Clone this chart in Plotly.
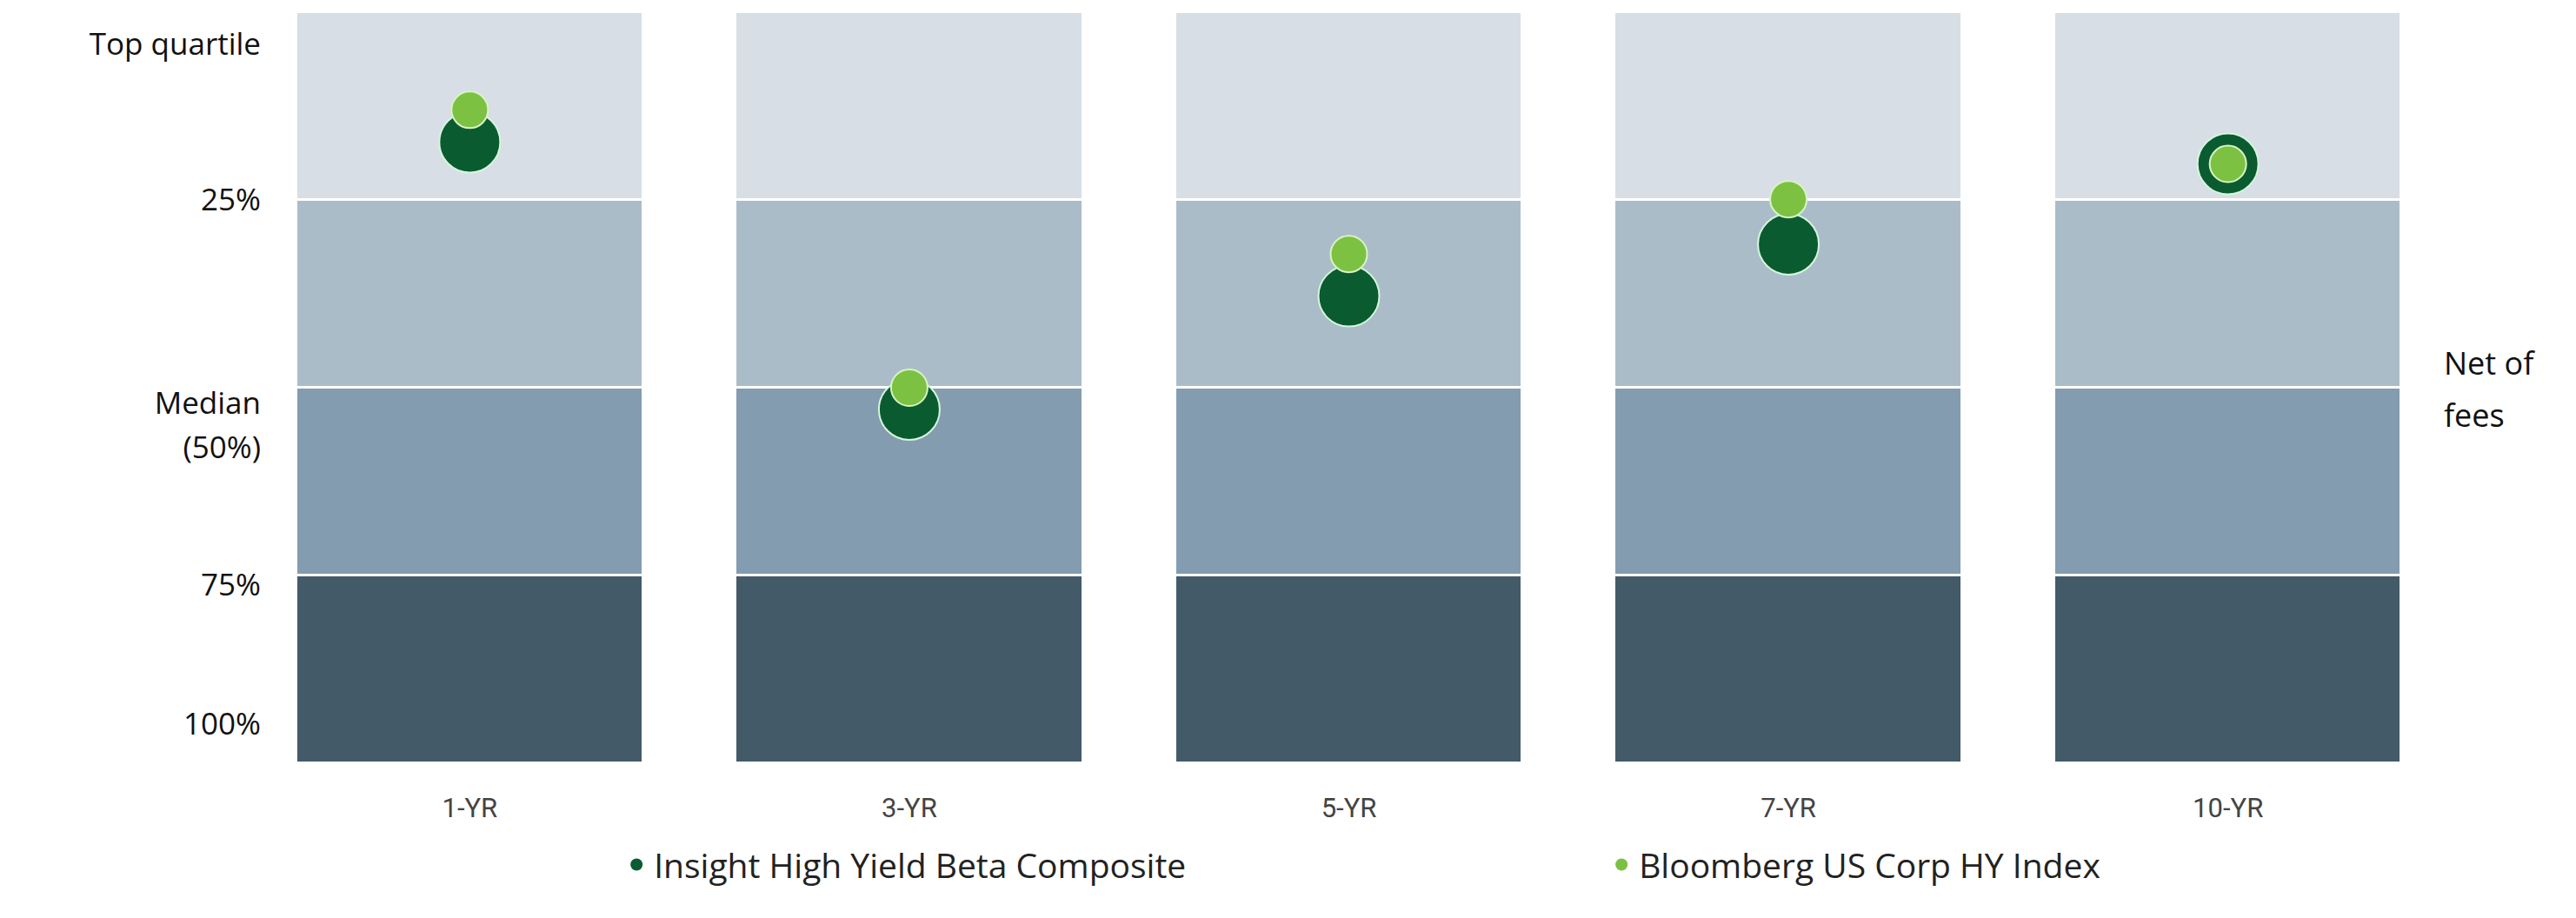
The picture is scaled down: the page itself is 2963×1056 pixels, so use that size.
import plotly.graph_objects as go

# periods (columns)
periodos = ["1-YR", "3-YR", "5-YR", "7-YR", "10-YR"]

# percentile rank (0 = best, 100 = worst)
insight_rank = [17.3, 52.9, 37.8, 30.9, 20.2]
bloomberg_rank = [13.0, 50.0, 32.2, 24.9, 20.2]

# quartile bands
faixa_base = [0, 25, 50, 75]
faixa_altura = [25, 25, 25, 25]
faixa_cores = ["#d7dee5", "#abbcc9", "#839cb0", "#435a69"]

# y-axis labels
rotulos_y = ["Top quartile", "25%", "Median", "(50%)", "75%", "100%"]
rotulos_y_pos = [4.2, 25, 52.0, 57.9, 76.3, 94.8]

nome_insight = "Insight High Yield Beta Composite"
nome_bloomberg = "Bloomberg US Corp HY Index"

verde_escuro = "#0a5c30"
verde_claro = "#7cc142"

x_pos = list(range(len(periodos)))

fig = go.Figure()

# quartile bands as stacked bars
for base, altura, cor in zip(faixa_base, faixa_altura, faixa_cores):
    fig.add_trace(go.Bar(
        x=x_pos, y=[altura] * len(periodos), base=[base] * len(periodos),
        width=0.79, marker=dict(color=cor, line=dict(color="white", width=3)),
        showlegend=False, hoverinfo="skip"
    ))

# composite (big dark circle)
fig.add_trace(go.Scatter(
    x=x_pos, y=insight_rank, mode="markers", showlegend=False,
    marker=dict(size=70, color=verde_escuro, line=dict(color="#d6f5de", width=2)),
    name=nome_insight
))

# index (small light circle)
fig.add_trace(go.Scatter(
    x=x_pos, y=bloomberg_rank, mode="markers", showlegend=False,
    marker=dict(size=42, color=verde_claro, line=dict(color="#d9f3c4", width=2)),
    name=nome_bloomberg
))

# legend entries with small dots (one legend each, to control spacing)
fig.add_trace(go.Scatter(x=[None], y=[None], mode="markers", name=nome_insight,
                         marker=dict(size=14, color=verde_escuro), legend="legend"))
fig.add_trace(go.Scatter(x=[None], y=[None], mode="markers", name=nome_bloomberg,
                         marker=dict(size=14, color=verde_claro), legend="legend2"))

# right side note
fig.add_annotation(text="Net of", xref="paper", yref="paper", x=1.0139, y=0.533,
                   xanchor="left", yanchor="middle", showarrow=False,
                   font=dict(family="Open Sans", size=36, color="#111111"))
fig.add_annotation(text="fees", xref="paper", yref="paper", x=1.0139, y=0.464,
                   xanchor="left", yanchor="middle", showarrow=False,
                   font=dict(family="Open Sans", size=36, color="#111111"))

fonte_legenda = dict(family="Open Sans", size=39, color="#222222")

fig.update_layout(
    width=2963, height=1056,
    margin=dict(l=320, r=196, t=6, b=186),
    paper_bgcolor="white", plot_bgcolor="white",
    barmode="overlay", bargap=0,
    showlegend=True,
    legend=dict(orientation="h", x=0.157, y=-0.135, xanchor="left", yanchor="middle",
                font=fonte_legenda),
    legend2=dict(orientation="h", x=0.620, y=-0.135, xanchor="left", yanchor="middle",
                 font=fonte_legenda),
    xaxis=dict(
        range=[-0.42, 4.42], tickvals=x_pos, ticktext=periodos,
        showgrid=False, zeroline=False, showline=False,
        ticklabelstandoff=30,
        tickfont=dict(family="Roboto", size=31, color="#444444")
    ),
    yaxis=dict(
        range=[100, 0], tickvals=rotulos_y_pos, ticktext=rotulos_y,
        showgrid=False, zeroline=False, showline=False,
        ticklabelstandoff=27,
        tickfont=dict(family="Open Sans", size=35, color="#111111")
    ),
    font=dict(family="Open Sans")
)

fig.write_html("out.html")
